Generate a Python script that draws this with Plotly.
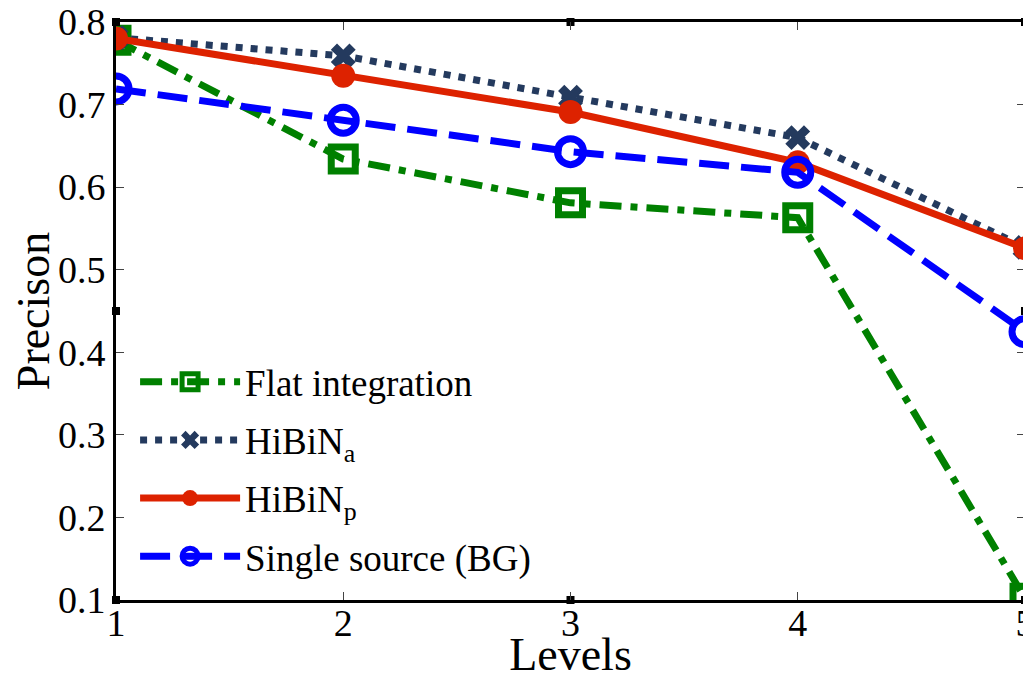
import plotly.graph_objects as go

levels = [1, 2, 3, 4, 5]
flat_integration = [0.778, 0.634, 0.581, 0.563, 0.102]
hibin_a = [0.781, 0.759, 0.709, 0.660, 0.527]
hibin_p = [0.780, 0.735, 0.691, 0.630, 0.526]
single_source = [0.719, 0.681, 0.643, 0.618, 0.425]
names = ["Flat integration", "HiBiN<sub>a</sub>", "HiBiN<sub>p</sub>", "Single source (BG)"]
x_ticks = [1, 2, 3, 4, 5]
y_ticks = [0.1, 0.2, 0.3, 0.4, 0.5, 0.6, 0.7, 0.8]
# small black square marks on the axes frame (corners and midpoints)
frame_x = [1, 3, 5, 1, 3, 5, 1, 5]
frame_y = [0.8, 0.8, 0.8, 0.1, 0.1, 0.1, 0.45, 0.45]

font = "Liberation Serif"
fig = go.Figure()
fig.add_trace(go.Scatter(x=levels, y=flat_integration, name=names[0], mode="lines+markers", legendgroup="a",
                         line=dict(color="#008000", width=7, dash="22px,9px,7px,9px"),
                         marker=dict(symbol="square-open", size=24, color="#008000", line=dict(width=7, color="#008000"))))
fig.add_trace(go.Scatter(x=levels, y=hibin_a, name=names[1], mode="lines+markers", legendgroup="b",
                         line=dict(color="#243a5e", width=7, dash="7px,8px"),
                         marker=dict(symbol="x", size=22, color="#243a5e")))
fig.add_trace(go.Scatter(x=levels, y=hibin_p, name=names[2], mode="lines+markers", legendgroup="c",
                         line=dict(color="#dd2200", width=7),
                         marker=dict(symbol="circle", size=24, color="#dd2200")))
fig.add_trace(go.Scatter(x=levels, y=single_source, name=names[3], mode="lines+markers", legendgroup="d",
                         line=dict(color="#0000ff", width=7, dash="30px,12px"),
                         marker=dict(symbol="circle-open", size=26, color="#0000ff", line=dict(width=7, color="#0000ff"))))
fig.add_trace(go.Scatter(x=frame_x, y=frame_y, mode="markers", showlegend=False, cliponaxis=False,
                         marker=dict(symbol="square", size=8, color="black"), hoverinfo="skip"))

fig.update_layout(
    width=1023, height=672,
    margin=dict(l=108, r=6, t=14, b=80),
    paper_bgcolor="white", plot_bgcolor="white",
    font=dict(family=font, size=38, color="black"),
    showlegend=True,
    legend=dict(x=0.021, y=0.022, xanchor="left", yanchor="bottom", bgcolor="rgba(0,0,0,0)",
                font=dict(family=font, size=37), itemwidth=100, tracegroupgap=7),
    xaxis=dict(range=[1, 5], tickvals=x_ticks, ticks="inside", ticklen=8, tickwidth=1,
               showline=True, linewidth=3, linecolor="black", mirror="ticks", showgrid=False,
               zeroline=False, automargin=False, ticklabeloverflow="allow", ticklabelstandoff=-13,
               title=dict(text="Levels", font=dict(size=46), standoff=14),
               tickfont=dict(size=38)),
    yaxis=dict(range=[0.1, 0.8], tickvals=y_ticks, ticktext=[f"{v:.1f}" for v in y_ticks],
               ticks="inside", ticklen=8, tickwidth=1,
               showline=True, linewidth=3, linecolor="black", mirror="ticks", showgrid=False,
               zeroline=False, automargin=False, ticklabeloverflow="allow",
               title=dict(text="Precison", font=dict(size=46), standoff=4),
               tickfont=dict(size=38)),
)
fig.write_html("out.html")
